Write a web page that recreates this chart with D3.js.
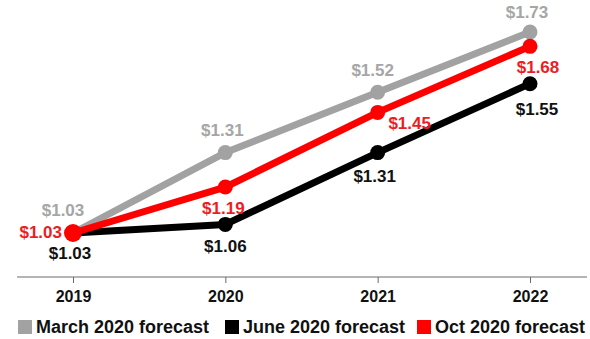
<!DOCTYPE html>
<html>
<head>
<meta charset="utf-8">
<script src="https://cdn.jsdelivr.net/npm/d3@7"></script>
<style>
  html, body { margin: 0; padding: 0; background: #fff; }
  svg { display: block; }
  text { font-family: "Liberation Sans", Arial, sans-serif; font-weight: bold; }
</style>
</head>
<body>
<svg id="chart" width="590" height="339"></svg>
<script>
// Years on the x axis
const years = ["2019", "2020", "2021", "2022"];

// Forecast values (US$)
const marchForecast = [1.03, 1.31, 1.52, 1.73];
const juneForecast  = [1.03, 1.06, 1.31, 1.55];
const octForecast   = [1.03, 1.19, 1.45, 1.68];

const seriesNames = ["March 2020 forecast", "June 2020 forecast", "Oct 2020 forecast"];

// Styling, label placement and legend slot per series
const series = [
  { name: seriesNames[0], values: marchForecast, color: "#a2a2a2", labelColor: "#a6a6a6", legendX: 18,
    offsets: [[-10, -23, "middle"], [-3, -23, "middle"], [-5, -22, "middle"], [-3, -20, "middle"]] },
  { name: seriesNames[1], values: juneForecast, color: "#000000", labelColor: "#111111", legendX: 225,
    offsets: [[-3, 20, "middle"], [0, 22, "middle"], [-3, 23, "middle"], [7, 25, "middle"]] },
  { name: seriesNames[2], values: octForecast, color: "#ff0000", labelColor: "#ee1c24", legendX: 417,
    offsets: [[-11, -1, "end"], [-2, 21, "middle"], [32, 11, "middle"], [8, 21, "middle"]] }
];

const svg = d3.select("#chart");

const x = d3.scalePoint().domain(years).range([73, 530]);
const y = d3.scaleLinear().domain([1.03, 1.73]).range([233, 32]);

// Baseline axis with downward ticks
const axisY = 277;
svg.append("line")
  .attr("x1", 17).attr("x2", 587)
  .attr("y1", axisY).attr("y2", axisY)
  .attr("stroke", "#6b6b6b").attr("stroke-width", 1);

const axis = d3.axisBottom(x).tickSize(6).tickPadding(6);
const gAxis = svg.append("g").attr("transform", `translate(0,${axisY})`).call(axis);
gAxis.select(".domain").remove();
gAxis.selectAll(".tick line").attr("stroke", "#6b6b6b");
gAxis.selectAll(".tick text")
  .attr("font-family", "Liberation Sans, Arial, sans-serif")
  .attr("font-weight", "bold")
  .attr("font-size", 16)
  .attr("fill", "#111")
  .attr("dy", null)
  .attr("y", 25);

// Lines and markers
const line = d3.line()
  .x((d, i) => x(years[i]))
  .y(d => y(d));

series.forEach(s => {
  const g = svg.append("g");
  g.append("path")
    .datum(s.values)
    .attr("d", line)
    .attr("fill", "none")
    .attr("stroke", s.color)
    .attr("stroke-width", 7)
    .attr("stroke-linejoin", "round");
  g.selectAll("circle")
    .data(s.values)
    .join("circle")
    .attr("cx", (d, i) => x(years[i]))
    .attr("cy", d => y(d))
    .attr("r", (d, i) => (s.name === seriesNames[2] && i === 0) ? 9 : 7.5)
    .attr("fill", s.color);
});

// Value labels
series.forEach(s => {
  svg.append("g").selectAll("text")
    .data(s.values)
    .join("text")
    .attr("x", (d, i) => x(years[i]) + s.offsets[i][0])
    .attr("y", (d, i) => y(d) + s.offsets[i][1] + 6)
    .attr("text-anchor", (d, i) => s.offsets[i][2])
    .attr("font-size", 17)
    .attr("fill", s.labelColor)
    .text(d => "$" + d3.format(".2f")(d));
});

// Legend
const legend = svg.append("g");
series.forEach(s => {
  legend.append("rect")
    .attr("x", s.legendX).attr("y", 320)
    .attr("width", 14).attr("height", 14)
    .attr("fill", s.color);
  legend.append("text")
    .attr("x", s.legendX + 18).attr("y", 333)
    .attr("font-size", 18)
    .attr("fill", "#111")
    .text(s.name);
});
</script>
</body>
</html>
